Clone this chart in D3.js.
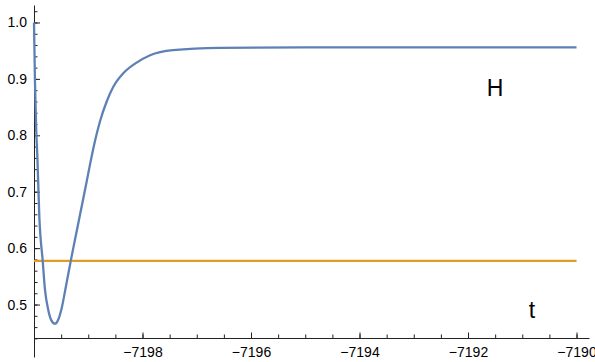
<!DOCTYPE html>
<html>
<head>
<meta charset="utf-8">
<script src="https://cdn.jsdelivr.net/npm/d3@7"></script>
<style>
  body { margin: 0; background: #fff; }
  svg { display: block; font-family: "Liberation Sans", Arial, sans-serif; }
  .tick text { font-size: 14px; fill: #000; }
  .axis path, .axis line { stroke: #222; }
</style>
</head>
<body>
<div id="chart"></div>
<script>
// Data
const tValues = [-7200, -7199.982, -7199.959, -7199.939, -7199.902, -7199.84, -7199.797, -7199.736,
  -7199.68, -7199.613, -7199.55, -7199.489, -7199.41, -7199.323, -7199.276, -7199.152, -7199.029,
  -7198.968, -7198.876, -7198.783, -7198.66, -7198.538, -7198.354, -7198.138, -7197.86, -7197.44,
  -7196.57, -7195, -7193, -7190];
const hValues = [1.0, 0.894, 0.809, 0.765, 0.656, 0.578, 0.526, 0.490,
  0.472, 0.466, 0.474, 0.494, 0.533, 0.577, 0.600, 0.659, 0.718,
  0.748, 0.790, 0.825, 0.860, 0.886, 0.910, 0.927, 0.942, 0.951,
  0.955, 0.956, 0.956, 0.956];
const constLevel = 0.5774;   // orange horizontal line
const constRange = [-7200, -7190];

const xMajor = [-7198, -7196, -7194, -7192, -7190];
const xMinor = d3.range(-7200, -7189.9, 0.5);
const yMajor = [0.5, 0.6, 0.7, 0.8, 0.9, 1.0];
const yMinor = d3.range(0.44, 1.03, 0.02);

const W = 595, H = 362;
const svg = d3.select("#chart").append("svg").attr("width", W).attr("height", H);

const x = d3.scaleLinear().domain([-7200, -7189.77]).range([34, 589]);
const y = d3.scaleLinear().domain([0.407, 1.031]).range([357, 5]);
const xAxisLevel = 0.4407;

// y axis
svg.append("g").attr("class", "axis")
  .attr("transform", `translate(${x(-7200)},0)`)
  .call(d3.axisLeft(y).tickValues(yMinor).tickFormat("").tickSize(-3.5).tickSizeOuter(0))
  .call(g => g.select(".domain").remove());
svg.append("g").attr("class", "axis")
  .attr("transform", `translate(${x(-7200)},0)`)
  .call(d3.axisLeft(y).tickValues(yMajor).tickFormat(d3.format(".1f")).tickSize(-6).tickSizeOuter(0).tickPadding(7));

// x axis
svg.append("g").attr("class", "axis")
  .attr("transform", `translate(0,${y(xAxisLevel)})`)
  .call(d3.axisBottom(x).tickValues(xMinor).tickFormat("").tickSize(-3.5).tickSizeOuter(0))
  .call(g => g.select(".domain").remove());
svg.append("g").attr("class", "axis")
  .attr("transform", `translate(0,${y(xAxisLevel)})`)
  .call(d3.axisBottom(x).tickValues(xMajor).tickFormat(d => "\u2212" + Math.abs(d)).tickSize(-5.5).tickSizeOuter(0).tickPadding(9));

// orange constant line
svg.append("path")
  .datum(constRange)
  .attr("fill", "none")
  .attr("stroke", "#E19C24")
  .attr("stroke-width", 2.3)
  .attr("d", d3.line().x(d => x(d)).y(() => y(constLevel)));

// blue curve
const pts = tValues.map((t, i) => ({t: t, h: hValues[i]}));
svg.append("path")
  .datum(pts)
  .attr("fill", "none")
  .attr("stroke", "#5E81B5")
  .attr("stroke-width", 2.3)
  .attr("d", d3.line().curve(d3.curveMonotoneX).x(d => x(d.t)).y(d => y(d.h)));

// labels
svg.append("text").attr("x", 495).attr("y", 96).attr("text-anchor", "middle")
  .attr("font-size", 23).text("H");
svg.append("text").attr("x", 532).attr("y", 318).attr("text-anchor", "middle")
  .attr("font-size", 23).text("t");
</script>
</body>
</html>
